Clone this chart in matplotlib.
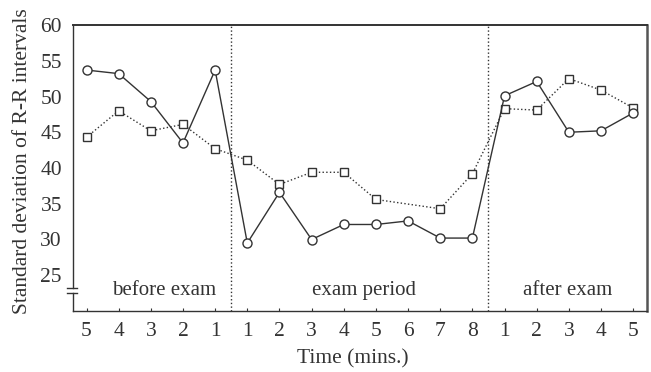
import numpy as np
import matplotlib
matplotlib.use("Agg")
import matplotlib.pyplot as plt

plt.rcParams['font.family'] = ['Liberation Serif', 'DejaVu Serif']

tick_labels = ['5', '4', '3', '2', '1',
               '1', '2', '3', '4', '5', '6', '7', '8',
               '1', '2', '3', '4', '5']
circles = [53.7, 53.2, 49.3, 43.5, 53.7,
           29.5, 36.6, 30.0, 32.1, 32.1, 32.6, 30.2, 30.2,
           50.1, 52.1, 45.0, 45.2, 47.7]
squares = [44.3, 48.0, 45.2, 46.1, 42.7,
           41.1, 37.7, 39.4, 39.4, 35.6, np.nan, 34.3, 39.2,
           48.3, 48.1, 52.5, 50.9, 48.4]
period_labels = ['before exam', 'exam period', 'after exam']
period_centers = [2.42, 8.62, 14.95]
dividers = [4.5, 12.5]
yticks = [25, 30, 35, 40, 45, 50, 55, 60]

col = '#333333'
fig = plt.figure(figsize=(6.51, 3.72), dpi=100)
ax = fig.add_axes([73/651, 1-311/372, (647-73)/651, (311-25)/372])

x = np.arange(len(tick_labels))
sq = np.array(squares, dtype=float)
m = ~np.isnan(sq)

ax.plot(x[m], sq[m], linestyle=':', color=col, lw=1.0, marker='s', ms=6,
        mfc='white', mec=col, mew=1.0, zorder=3)
ax.plot(x, circles, linestyle='-', color=col, lw=1.0, marker='o', ms=6.5,
        mfc='white', mec=col, mew=1.0, zorder=4)

for d in dividers:
    ax.axvline(d, color=col, ls=':', lw=1.0, zorder=1)

for lab, c in zip(period_labels, period_centers):
    ax.text(c, 22.8, lab, ha='center', va='center', fontsize=15, color=col)

ax.set_xlim(-0.42, 17.43)
ax.set_ylim(20, 60)
ax.set_xticks(x)
ax.set_xticklabels(tick_labels)
ax.set_yticks(yticks)
ax.tick_params(direction='in', length=2, width=0.8, colors=col,
               labelsize=15.5, labelcolor=col)
ax.tick_params(axis='y', length=0, pad=8)
ax.tick_params(axis='x', pad=8)

for s in ['left', 'bottom', 'top']:
    ax.spines[s].set_color(col)
    ax.spines[s].set_linewidth(1.0)
ax.spines['right'].set_color('#555555')
ax.spines['right'].set_linewidth(1.8)
ax.spines['top'].set_linewidth(1.4)

# axis break on left spine
ax.spines['left'].set_bounds(23.2, 60)
ax.plot([0, 0], [20, 22.5], color=col, lw=1.0, transform=ax.get_yaxis_transform(),
        clip_on=False)
for yb in [23.2, 22.5]:
    ax.plot([-0.011, 0.007], [yb, yb], color=col, lw=1.0,
            transform=ax.get_yaxis_transform(), clip_on=False)

ax.set_xlabel('Time (mins.)', fontsize=15.5, color=col, labelpad=7)
ax.xaxis.set_label_coords(0.488, -0.135, transform=ax.transAxes)
ax.xaxis.label.set_va('top')
ax.set_ylabel('Standard deviation of R-R intervals', fontsize=15.5, color=col, labelpad=5)
ax.yaxis.set_label_coords(-0.071, 0.523)

fig.savefig('out.png', dpi=100)
